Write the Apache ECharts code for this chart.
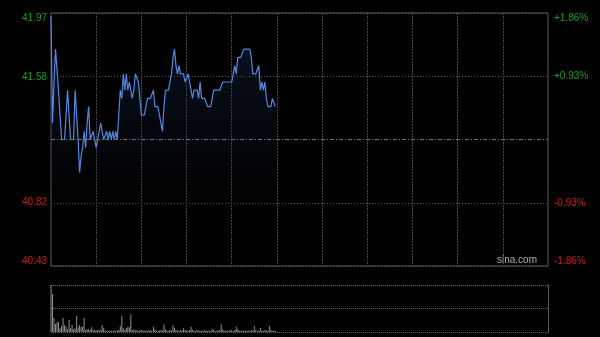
<!DOCTYPE html>
<html><head><meta charset="utf-8">
<script src="https://cdn.jsdelivr.net/npm/echarts@6/dist/echarts.min.js"></script>
<style>html,body{margin:0;padding:0;background:#000;}#c{width:600px;height:337px;}</style>
</head><body><div id="c"></div>
<script>
// ---- data ----
const prevClose = 41.20;
const priceMin = 40.43, priceMax = 41.97;
const priceTickLabels = [40.43, 40.82, 41.58, 41.97];
const pctMin = -1.86, pctMax = 1.86, pctStep = 0.93;
const prices = [
  41.95, 41.30, 41.55, 41.75, 41.75, 41.50, 41.35, 41.20, 41.20, 41.20,
  41.35, 41.50, 41.35, 41.20, 41.20, 41.20, 41.50, 41.35, 41.20, 41.00,
  41.10, 41.15, 41.25, 41.15, 41.30, 41.40, 41.20, 41.20, 41.25, 41.20,
  41.15, 41.20, 41.25, 41.30, 41.30, 41.20, 41.20, 41.25, 41.20, 41.25,
  41.20, 41.25, 41.20, 41.25, 41.20, 41.20, 41.50, 41.45, 41.60, 41.50,
  41.60, 41.50, 41.55, 41.50, 41.45, 41.50, 41.60, 41.60, 41.55, 41.45,
  41.35, 41.35, 41.35, 41.35, 41.45, 41.45, 41.45, 41.45, 41.50, 41.40,
  41.40, 41.40, 41.40, 41.30, 41.25, 41.40, 41.50, 41.50, 41.50, 41.50,
  41.60, 41.70, 41.75, 41.65, 41.60, 41.65, 41.60, 41.60, 41.60, 41.55,
  41.55, 41.60, 41.55, 41.50, 41.45, 41.50, 41.50, 41.50, 41.45, 41.55,
  41.45, 41.45, 41.45, 41.45, 41.40, 41.40, 41.40, 41.45, 41.50, 41.50,
  41.50, 41.50, 41.50, 41.50, 41.55, 41.55, 41.55, 41.55, 41.55, 41.55,
  41.55, 41.60, 41.65, 41.60, 41.70, 41.70, 41.70, 41.70, 41.75, 41.75,
  41.75, 41.75, 41.75, 41.70, 41.60, 41.60, 41.60, 41.60, 41.65, 41.50,
  41.55, 41.50, 41.55, 41.45, 41.40, 41.40, 41.40, 41.45, 41.45, 41.40
];
const volumes = [
  100, 81, 30, 17, 21, 21, 8, 12, 30, 15,
  11, 6, 26, 8, 15, 6, 8, 34, 10, 15,
  10, 12, 30, 5, 6, 6, 4, 10, 4, 5,
  3, 4, 3, 4, 15, 8, 3, 2, 3, 2,
  3, 2, 3, 2, 3, 4, 12, 34, 8, 4,
  8, 10, 10, 38, 4, 6, 3, 4, 2, 3,
  4, 3, 2, 3, 2, 4, 3, 2, 11, 6,
  3, 2, 3, 4, 3, 16, 6, 3, 2, 4,
  3, 14, 9, 4, 3, 2, 4, 3, 8, 4,
  3, 2, 4, 11, 5, 3, 2, 4, 3, 2,
  3, 2, 4, 3, 2, 3, 2, 7, 4, 2,
  3, 2, 4, 16, 6, 3, 2, 3, 2, 4,
  3, 2, 4, 11, 6, 3, 2, 3, 2, 3,
  2, 3, 2, 4, 3, 13, 4, 2, 3, 9,
  3, 2, 4, 3, 2, 13, 4, 2, 3, 2
];
// trading-minute categories (HK session: 09:30-12:00, 13:01-16:00)
const times = [];
function pad(n){return (n<10?'0':'')+n;}
for (let t = 9*60+30; t <= 12*60; t++) times.push(pad(Math.floor(t/60))+':'+pad(t%60));
for (let t = 13*60+1; t <= 16*60; t++) times.push(pad(Math.floor(t/60))+':'+pad(t%60));

const GREEN = '#1f9b1f', RED = '#d01a1a';
const chart = echarts.init(document.getElementById('c'), null, {renderer:'canvas'});
chart.setOption({
  animation: false,
  backgroundColor: '#000',
  grid: [
    {left: 51, top: 13, width: 497, height: 253, show: true, borderColor: '#5a5a5a', borderWidth: 1},
    {left: 51, top: 285, width: 497, height: 47}
  ],
  xAxis: [
    {type: 'category', gridIndex: 0, data: times, boundaryGap: false,
     axisLine: {show: false}, axisTick: {show: false}, axisLabel: {show: false},
     splitLine: {show: true, interval: function(i){return i % 30 === 0 && i > 0 && i < times.length-1;},
       lineStyle: {color: '#484848', type: [2, 1], width: 1}}},
    {type: 'category', gridIndex: 1, data: times, boundaryGap: false,
     axisLine: {show: false}, axisTick: {show: false}, axisLabel: {show: false}, splitLine: {show: false}}
  ],
  yAxis: [
    {type: 'value', gridIndex: 0, position: 'right', min: pctMin, max: pctMax, interval: pctStep,
     axisLine: {show: false}, axisTick: {show: false},
     axisLabel: {show: true, margin: 6, fontSize: 10, fontFamily: 'Liberation Sans, Arial',
       verticalAlignMinLabel: 'bottom', verticalAlignMaxLabel: 'top',
       formatter: function(v){ if (Math.abs(v) < 1e-6) return ''; return (v > 0 ? '+' : '') + v.toFixed(2) + '%'; },
       color: function(v){ return v > 0 ? GREEN : RED; }},
     splitLine: {show: true, lineStyle: {color: '#5a5a5a', type: [1, 2], width: 1}}},
    {type: 'value', gridIndex: 0, position: 'left', min: priceMin, max: priceMax,
     axisLine: {show: false}, axisTick: {show: false}, splitLine: {show: false},
     axisLabel: {show: true, margin: 4, fontSize: 10, fontFamily: 'Liberation Sans, Arial',
       customValues: priceTickLabels,
       verticalAlignMinLabel: 'bottom', verticalAlignMaxLabel: 'top',
       formatter: function(v){ return Number(v).toFixed(2); },
       color: function(v){ return Number(v) > prevClose ? GREEN : RED; }}},
    {type: 'value', gridIndex: 1, position: 'right', min: 0, max: 100, interval: 50,
     axisLine: {show: true, lineStyle: {color: '#5a5a5a', width: 1}}, axisTick: {show: false}, axisLabel: {show: false},
     splitLine: {show: true, lineStyle: {color: '#666', type: [1, 1], width: 1}}}
  ],
  series: [
    {type: 'line', xAxisIndex: 0, yAxisIndex: 1, data: prices, showSymbol: false, symbol: 'none',
     lineStyle: {color: '#5189e3', width: 1.2},
     areaStyle: {origin: 'start', color: new echarts.graphic.LinearGradient(0, 0, 0, 1, [
       {offset: 0, color: 'rgba(30,55,100,0.6)'}, {offset: 1, color: 'rgba(0,0,0,0)'}])},
     markLine: {silent: true, symbol: 'none', label: {show: false},
       lineStyle: {color: '#777', type: [4, 2, 1, 2], width: 1},
       data: [{yAxis: prevClose}]}},
    {type: 'bar', xAxisIndex: 1, yAxisIndex: 2, data: volumes, barWidth: 1, clip: false,
     itemStyle: {color: '#909090'}}
  ],
  graphic: [
    {type: 'text', right: 63, top: 255, style: {text: 'sina.com', fill: '#b0b0b0', fontSize: 10, fontFamily: 'Liberation Sans, Arial'}}
  ]
});
</script></body></html>
